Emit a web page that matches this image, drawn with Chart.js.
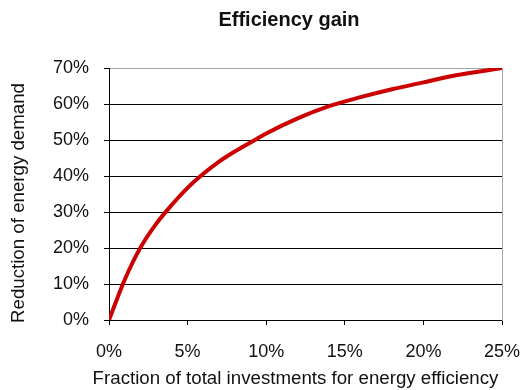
<!DOCTYPE html>
<html>
<head>
<meta charset="utf-8">
<script src="https://cdn.jsdelivr.net/npm/chart.js@4"></script>
<style>
  html, body { margin: 0; padding: 0; background: #ffffff; overflow: hidden; }
  #wrap { width: 521px; height: 390px; position: relative; }
</style>
</head>
<body>
<div id="wrap"><canvas id="chart"></canvas></div>
<script>
// Share of total investment spent on energy efficiency (%)
const investShare = [0, 1, 2, 3, 4, 5, 6, 7, 8, 9, 10, 12, 14, 16, 18, 20, 22, 25];
// Resulting reduction of energy demand (%)
const demandReduction = [0, 11.2, 20.1, 26.7, 32, 36.7, 40.6, 44, 46.8, 49.3, 51.8, 56, 59.4, 61.9, 64.1, 66, 67.9, 70];

const chartTitle = 'Efficiency gain';
const xTitle = 'Fraction of total investments for energy efficiency';
const yTitle = 'Reduction of energy demand';

const xTicks = [0, 5, 10, 15, 20, 25];
const yTicks = [0, 10, 20, 30, 40, 50, 60, 70];

const FONT = '"Liberation Sans", Arial, sans-serif';

// Chart title and axis titles
const titlesPlugin = {
  id: 'titles',
  afterDraw(chart) {
    const { ctx } = chart;
    ctx.save();
    ctx.fillStyle = '#111';
    ctx.textAlign = 'center';
    ctx.textBaseline = 'alphabetic';
    ctx.font = 'bold 20px ' + FONT;
    ctx.fillText(chartTitle, 289, 26);
    ctx.font = '18.7px ' + FONT;
    ctx.fillText(xTitle, 295.5, 383.5);
    ctx.translate(23.5, 203);
    ctx.rotate(-Math.PI / 2);
    ctx.fillText(yTitle, 0, 0);
    ctx.restore();
  }
};

new Chart(document.getElementById('chart'), {
  type: 'line',
  data: {
    datasets: [{
      data: investShare.map((x, i) => ({ x, y: demandReduction[i] })),
      borderColor: '#cc0000',
      borderWidth: 4,
      pointRadius: 0,
      cubicInterpolationMode: 'monotone',
      fill: false
    }]
  },
  options: {
    responsive: true,
    maintainAspectRatio: false,
    animation: false,
    layout: { padding: { top: 68, right: 19, left: 0, bottom: 0 } },
    plugins: { legend: { display: false }, tooltip: { enabled: false } },
    scales: {
      x: {
        type: 'linear',
        min: 0, max: 25,
        afterBuildTicks(scale) { scale.ticks = xTicks.map(v => ({ value: v })); },
        afterFit(scale) { scale.height = 70; scale.paddingLeft = 0; scale.paddingRight = 0; },
        grid: { drawOnChartArea: false, drawTicks: true, tickLength: 5, tickColor: '#000' },
        border: { color: '#000', width: 1 },
        ticks: {
          padding: 16,
          maxRotation: 0,
          color: '#111',
          font: { family: FONT, size: 18 },
          callback: v => v + '%'
        }
      },
      y: {
        min: 0, max: 70,
        afterBuildTicks(scale) { scale.ticks = yTicks.map(v => ({ value: v })); },
        afterFit(scale) { scale.width = 109; },
        grid: {
          color: c => (c.tick && c.tick.value === 70 ? '#a6a6a6' : '#000'),
          tickColor: '#000',
          tickLength: 5,
          lineWidth: 1
        },
        border: { color: '#000', width: 1 },
        ticks: {
          padding: 15,
          color: '#111',
          font: { family: FONT, size: 18 },
          callback: v => v + '%'
        }
      },
      yRight: {
        position: 'right',
        min: 0, max: 70,
        afterFit(scale) { scale.width = 0; },
        grid: { display: false },
        border: { color: '#a6a6a6', width: 1 },
        ticks: { display: false }
      }
    }
  },
  plugins: [titlesPlugin]
});
</script>
</body>
</html>
